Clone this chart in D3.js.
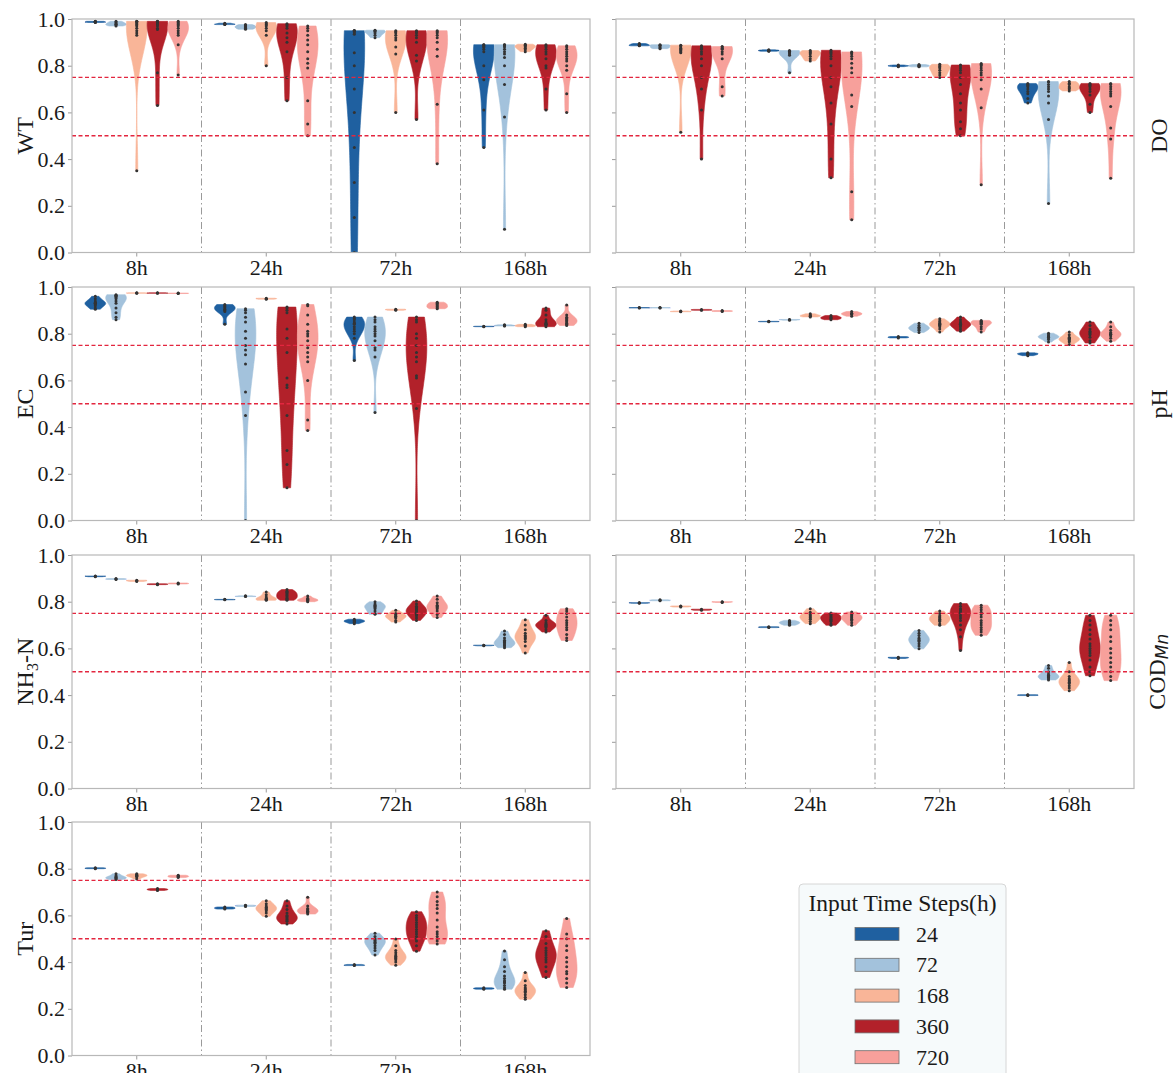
<!DOCTYPE html>
<html>
<head>
<meta charset="utf-8">
<script src="https://cdn.jsdelivr.net/npm/d3@7"></script>
<style>
  body { margin: 0; background: #fff; }
  svg text { font-family: "Liberation Serif", "Times New Roman", serif; fill: #1a1a1a; }
</style>
</head>
<body>
<div class="chart"></div>
<script>
// data
// ==========================================================================
var horizons = ["8h", "24h", "72h", "168h"];
var inputSteps = ["24", "72", "168", "360", "720"];
var stepColors = ["#1f60a0", "#a3c2dc", "#f9b598", "#b2212a", "#f7a09b"];
var yTicks = [0, 0.2, 0.4, 0.6, 0.8, 1.0];
var thresholds = [0.75, 0.5];

// each variable: 4 horizons x 5 input steps, every list = the scores of one violin
var wtValues = [
  [[0.99, 0.99, 0.988, 0.987, 0.986, 0.985], [0.99, 0.985, 0.98, 0.977, 0.974, 0.97],
   [0.99, 0.99, 0.985, 0.98, 0.975, 0.97, 0.96, 0.95, 0.94, 0.93, 0.35],
   [0.99, 0.99, 0.985, 0.98, 0.975, 0.97, 0.96, 0.955, 0.77, 0.63],
   [0.99, 0.985, 0.98, 0.975, 0.97, 0.96, 0.95, 0.94, 0.93, 0.89, 0.76]],
  [[0.982, 0.98, 0.978, 0.977, 0.976], [0.976, 0.972, 0.968, 0.964, 0.96, 0.956],
   [0.985, 0.98, 0.975, 0.97, 0.96, 0.95, 0.93, 0.8],
   [0.98, 0.975, 0.97, 0.96, 0.94, 0.92, 0.9, 0.86, 0.75, 0.65],
   [0.97, 0.96, 0.95, 0.93, 0.91, 0.89, 0.86, 0.83, 0.81, 0.79, 0.65, 0.55, 0.5]],
  [[0.95, 0.95, 0.95, 0.95, 0.945, 0.94, 0.935, 0.855, 0.8, 0.7, 0.6, 0.45, 0.3, 0.15, 0.0, -0.2],
   [0.952, 0.95, 0.946, 0.94, 0.93, 0.92],
   [0.95, 0.945, 0.94, 0.93, 0.92, 0.91, 0.88, 0.85, 0.6],
   [0.95, 0.945, 0.94, 0.93, 0.92, 0.9, 0.845, 0.82, 0.57],
   [0.95, 0.945, 0.94, 0.93, 0.92, 0.9, 0.87, 0.84, 0.635, 0.38]],
  [[0.89, 0.89, 0.885, 0.88, 0.88, 0.87, 0.86, 0.8, 0.74, 0.61, 0.45],
   [0.89, 0.89, 0.885, 0.88, 0.87, 0.86, 0.85, 0.835, 0.8, 0.72, 0.58, 0.1],
   [0.892, 0.888, 0.884, 0.88, 0.875, 0.868, 0.86],
   [0.89, 0.885, 0.88, 0.87, 0.86, 0.85, 0.83, 0.8, 0.79, 0.7, 0.61],
   [0.885, 0.88, 0.87, 0.86, 0.85, 0.84, 0.83, 0.82, 0.8, 0.78, 0.68, 0.6]]
];

var doValues = [
  [[0.895, 0.893, 0.89, 0.888, 0.886, 0.885], [0.89, 0.888, 0.885, 0.88, 0.876, 0.873],
   [0.888, 0.885, 0.88, 0.875, 0.87, 0.865, 0.86, 0.855, 0.515],
   [0.885, 0.88, 0.875, 0.87, 0.86, 0.85, 0.83, 0.8, 0.75, 0.7, 0.61, 0.4],
   [0.882, 0.88, 0.875, 0.87, 0.86, 0.85, 0.83, 0.71, 0.67]],
  [[0.868, 0.866, 0.865, 0.863, 0.862], [0.865, 0.862, 0.86, 0.855, 0.85, 0.845, 0.77],
   [0.865, 0.86, 0.855, 0.85, 0.84, 0.83, 0.82],
   [0.866, 0.86, 0.855, 0.85, 0.84, 0.83, 0.8, 0.75, 0.71, 0.64, 0.55, 0.4, 0.32],
   [0.859, 0.855, 0.85, 0.84, 0.83, 0.81, 0.79, 0.77, 0.675, 0.625, 0.26, 0.14]],
  [[0.803, 0.8, 0.8, 0.798, 0.796], [0.805, 0.802, 0.8, 0.797, 0.795],
   [0.806, 0.8, 0.795, 0.79, 0.78, 0.77, 0.76, 0.75],
   [0.803, 0.8, 0.79, 0.78, 0.77, 0.75, 0.72, 0.68, 0.64, 0.61, 0.56, 0.53, 0.5],
   [0.809, 0.805, 0.8, 0.79, 0.78, 0.77, 0.76, 0.74, 0.7, 0.62, 0.29]],
  [[0.724, 0.72, 0.715, 0.71, 0.7, 0.69, 0.68, 0.66, 0.64],
   [0.732, 0.73, 0.72, 0.71, 0.7, 0.69, 0.67, 0.64, 0.57, 0.21],
   [0.732, 0.725, 0.72, 0.71, 0.705, 0.7, 0.692],
   [0.724, 0.72, 0.715, 0.71, 0.7, 0.69, 0.675, 0.635, 0.6],
   [0.724, 0.72, 0.71, 0.7, 0.69, 0.68, 0.67, 0.625, 0.533, 0.486, 0.318]]
];

var ecValues = [
  [[0.96, 0.95, 0.94, 0.935, 0.93, 0.93, 0.925, 0.92, 0.91, 0.905],
   [0.967, 0.965, 0.962, 0.96, 0.955, 0.95, 0.94, 0.93, 0.91, 0.89, 0.87, 0.86],
   [0.975, 0.974, 0.973], [0.975, 0.974, 0.973], [0.974, 0.973, 0.972]],
  [[0.925, 0.92, 0.915, 0.91, 0.905, 0.9, 0.895, 0.84],
   [0.907, 0.9, 0.89, 0.87, 0.85, 0.81, 0.78, 0.75, 0.73, 0.71, 0.67, 0.55, 0.45, 0.0],
   [0.952, 0.95, 0.948],
   [0.914, 0.91, 0.9, 0.89, 0.82, 0.78, 0.72, 0.61, 0.58, 0.57, 0.45, 0.3, 0.24, 0.14],
   [0.925, 0.92, 0.88, 0.84, 0.81, 0.8, 0.79, 0.77, 0.74, 0.72, 0.7, 0.68, 0.6, 0.43, 0.385]],
  [[0.871, 0.865, 0.86, 0.85, 0.845, 0.84, 0.83, 0.82, 0.81, 0.8, 0.78, 0.685],
   [0.871, 0.86, 0.85, 0.83, 0.82, 0.81, 0.8, 0.79, 0.77, 0.74, 0.73, 0.7, 0.463],
   [0.905, 0.903, 0.9],
   [0.871, 0.86, 0.85, 0.8, 0.78, 0.75, 0.72, 0.7, 0.68, 0.62, 0.61, 0.48, 0.0],
   [0.935, 0.93, 0.925, 0.92, 0.915, 0.91, 0.907]],
  [[0.832, 0.831, 0.83], [0.838, 0.836, 0.834, 0.833], [0.84, 0.836, 0.833, 0.83],
   [0.91, 0.9, 0.88, 0.86, 0.85, 0.845, 0.84, 0.84, 0.835, 0.83],
   [0.923, 0.88, 0.87, 0.865, 0.86, 0.855, 0.85, 0.845, 0.84, 0.835]]
];

var phValues = [
  [[0.912, 0.911, 0.91], [0.912, 0.911, 0.91], [0.897, 0.895, 0.894],
   [0.904, 0.902, 0.9], [0.899, 0.897, 0.895]],
  [[0.853, 0.852, 0.851], [0.861, 0.86, 0.858], [0.885, 0.88, 0.877, 0.875, 0.872],
   [0.878, 0.872, 0.868, 0.865, 0.86], [0.895, 0.888, 0.885, 0.882, 0.875]],
  [[0.788, 0.785, 0.782], [0.845, 0.835, 0.828, 0.825, 0.82, 0.815, 0.805],
   [0.864, 0.855, 0.85, 0.845, 0.84, 0.838, 0.835, 0.83, 0.82, 0.807],
   [0.871, 0.86, 0.85, 0.845, 0.84, 0.84, 0.835, 0.83, 0.82, 0.811],
   [0.857, 0.853, 0.85, 0.848, 0.845, 0.84, 0.83, 0.82, 0.807]],
  [[0.718, 0.715, 0.713, 0.71, 0.706], [0.802, 0.795, 0.79, 0.787, 0.785, 0.782, 0.775, 0.764],
   [0.807, 0.795, 0.785, 0.78, 0.778, 0.775, 0.77, 0.765, 0.754],
   [0.85, 0.835, 0.82, 0.81, 0.805, 0.8, 0.795, 0.785, 0.77, 0.76],
   [0.85, 0.83, 0.815, 0.805, 0.8, 0.798, 0.795, 0.79, 0.78, 0.768]]
];

var nh3Values = [
  [[0.91, 0.909, 0.907], [0.899, 0.897, 0.895], [0.892, 0.89, 0.887],
   [0.877, 0.875, 0.873], [0.88, 0.878, 0.876]],
  [[0.81, 0.809, 0.808], [0.825, 0.823, 0.822],
   [0.842, 0.83, 0.82, 0.815, 0.81, 0.81, 0.808, 0.806],
   [0.852, 0.845, 0.84, 0.835, 0.83, 0.825, 0.82, 0.815, 0.81, 0.806],
   [0.824, 0.815, 0.81, 0.808, 0.806, 0.803, 0.8]],
  [[0.725, 0.72, 0.718, 0.715, 0.712, 0.706],
   [0.8, 0.79, 0.785, 0.78, 0.775, 0.77, 0.76, 0.75, 0.746],
   [0.763, 0.75, 0.745, 0.74, 0.737, 0.735, 0.73, 0.72, 0.713],
   [0.803, 0.79, 0.78, 0.775, 0.77, 0.765, 0.76, 0.755, 0.75, 0.745, 0.74, 0.73, 0.72],
   [0.824, 0.81, 0.795, 0.785, 0.78, 0.775, 0.77, 0.76, 0.745, 0.732]],
  [[0.614, 0.613, 0.611],
   [0.674, 0.66, 0.645, 0.635, 0.63, 0.625, 0.62, 0.615, 0.61, 0.603],
   [0.723, 0.7, 0.68, 0.665, 0.655, 0.65, 0.645, 0.64, 0.63, 0.61, 0.58],
   [0.742, 0.72, 0.71, 0.705, 0.7, 0.7, 0.695, 0.69, 0.68, 0.67],
   [0.77, 0.76, 0.75, 0.735, 0.72, 0.71, 0.7, 0.69, 0.68, 0.66, 0.645, 0.634]]
];

var codValues = [
  [[0.796, 0.795, 0.793], [0.808, 0.806, 0.804], [0.782, 0.78, 0.777],
   [0.768, 0.766, 0.763], [0.8, 0.799, 0.797]],
  [[0.693, 0.691, 0.689], [0.72, 0.715, 0.712, 0.71, 0.707, 0.703, 0.699],
   [0.77, 0.755, 0.745, 0.74, 0.735, 0.73, 0.725, 0.715, 0.706],
   [0.752, 0.745, 0.74, 0.735, 0.73, 0.725, 0.72, 0.715, 0.705, 0.699],
   [0.756, 0.745, 0.74, 0.735, 0.73, 0.725, 0.72, 0.71, 0.699]],
  [[0.562, 0.56, 0.557],
   [0.677, 0.665, 0.655, 0.645, 0.64, 0.635, 0.63, 0.62, 0.61, 0.598],
   [0.76, 0.75, 0.74, 0.735, 0.73, 0.725, 0.72, 0.715, 0.705, 0.699],
   [0.792, 0.78, 0.77, 0.765, 0.76, 0.755, 0.75, 0.74, 0.73, 0.72, 0.7, 0.68, 0.65, 0.591],
   [0.785, 0.775, 0.765, 0.755, 0.745, 0.735, 0.72, 0.71, 0.7, 0.69, 0.68, 0.67, 0.656]],
  [[0.402, 0.4, 0.398],
   [0.527, 0.515, 0.5, 0.49, 0.485, 0.48, 0.478, 0.475, 0.47, 0.465],
   [0.54, 0.5, 0.48, 0.47, 0.465, 0.46, 0.455, 0.45, 0.44, 0.43, 0.419],
   [0.742, 0.72, 0.7, 0.68, 0.66, 0.64, 0.62, 0.61, 0.6, 0.59, 0.58, 0.57, 0.55, 0.52, 0.5, 0.483],
   [0.742, 0.72, 0.7, 0.68, 0.65, 0.63, 0.6, 0.58, 0.56, 0.54, 0.52, 0.5, 0.48, 0.462]]
];

var turValues = [
  [[0.804, 0.802, 0.8], [0.778, 0.77, 0.765, 0.762, 0.76, 0.757, 0.754],
   [0.778, 0.775, 0.772, 0.77, 0.768, 0.764, 0.756],
   [0.715, 0.713, 0.711, 0.709, 0.707], [0.772, 0.77, 0.767, 0.765, 0.762]],
  [[0.636, 0.633, 0.63, 0.627], [0.644, 0.642, 0.64, 0.638],
   [0.663, 0.65, 0.64, 0.635, 0.63, 0.625, 0.62, 0.61, 0.596],
   [0.663, 0.64, 0.625, 0.61, 0.6, 0.595, 0.59, 0.585, 0.58, 0.575, 0.563],
   [0.678, 0.64, 0.63, 0.625, 0.62, 0.618, 0.615, 0.612, 0.606]],
  [[0.39, 0.387, 0.385],
   [0.524, 0.51, 0.5, 0.495, 0.49, 0.485, 0.48, 0.47, 0.46, 0.45, 0.43],
   [0.499, 0.47, 0.45, 0.44, 0.43, 0.425, 0.42, 0.415, 0.41, 0.4, 0.387],
   [0.616, 0.6, 0.59, 0.58, 0.57, 0.56, 0.55, 0.54, 0.53, 0.52, 0.51, 0.5, 0.49, 0.47, 0.447],
   [0.7, 0.68, 0.66, 0.645, 0.63, 0.61, 0.58, 0.55, 0.53, 0.52, 0.51, 0.5, 0.49, 0.477]],
  [[0.29, 0.287, 0.284],
   [0.448, 0.41, 0.38, 0.36, 0.34, 0.33, 0.32, 0.315, 0.31, 0.3, 0.29, 0.284],
   [0.355, 0.32, 0.3, 0.29, 0.285, 0.28, 0.275, 0.27, 0.26, 0.25, 0.241],
   [0.534, 0.51, 0.48, 0.46, 0.45, 0.44, 0.43, 0.42, 0.41, 0.4, 0.38, 0.36, 0.334],
   [0.587, 0.52, 0.5, 0.47, 0.45, 0.42, 0.4, 0.38, 0.36, 0.35, 0.33, 0.31, 0.291]]
];

// panel layout: col 0 = label on the left, col 1 = label on the right
var panels = [
  { label: "WT", values: wtValues, row: 0, col: 0 },
  { label: "DO", values: doValues, row: 0, col: 1 },
  { label: "EC", values: ecValues, row: 1, col: 0 },
  { label: "pH", values: phValues, row: 1, col: 1 },
  { label: "NH3-N", values: nh3Values, row: 2, col: 0 },
  { label: "CODMn", values: codValues, row: 2, col: 1 },
  { label: "Tur", values: turValues, row: 3, col: 0 }
];

// chart configuration
// ==========================================================================
var svgWidth = 1175;
var svgHeight = 1073;
var colX = [72, 616];
var rowY = [19, 287, 555, 822];
var panelW = 518;
var panelH = 233.5;
var serif = "'Liberation Serif', 'Times New Roman', serif";

var svg = d3.select(".chart")
  .append("svg")
  .attr("width", svgWidth)
  .attr("height", svgHeight);

var defs = svg.append("defs");

// gaussian kde, scott bandwidth, cut at data range (like seaborn cut=0)
function kde(values) {
  var n = values.length;
  var bw = Math.pow(n, -0.2) * d3.deviation(values);
  var lo = d3.min(values), hi = d3.max(values);
  var grid = d3.range(100).map(i => lo + (hi - lo) * i / 99);
  var dens = grid.map(g => d3.sum(values, v => Math.exp(-0.5 * Math.pow((g - v) / bw, 2))));
  var m = d3.max(dens);
  return grid.map((g, i) => [g, dens[i] / m]);
}

panels.forEach(function(p, pi) {
  var g = svg.append("g")
    .attr("transform", `translate(${colX[p.col]}, ${rowY[p.row]})`);

  var x = d3.scaleBand().domain(horizons).range([0, panelW]);
  var hue = d3.scaleBand().domain(inputSteps)
    .range([-0.4 * x.bandwidth(), 0.4 * x.bandwidth()]);
  var y = d3.scaleLinear().domain([0, 1]).range([panelH, 0]);
  var half = hue.bandwidth() / 2;

  defs.append("clipPath").attr("id", "clip" + pi)
    .append("rect").attr("width", panelW).attr("height", panelH);

  // group separators (dash-dot)
  g.selectAll(".sep")
    .data(horizons.slice(1))
    .enter()
    .append("line")
    .attr("x1", d => x(d)).attr("x2", d => x(d))
    .attr("y1", 0).attr("y2", panelH)
    .attr("stroke", "#9a9a9a")
    .attr("stroke-width", 1)
    .attr("stroke-dasharray", "7,3,1.5,3");

  var plot = g.append("g").attr("clip-path", `url(#clip${pi})`);

  horizons.forEach(function(h, hi) {
    inputSteps.forEach(function(s, si) {
      var vals = p.values[hi][si];
      var cx = x(h) + x.bandwidth() / 2 + hue(s) + half;
      var area = d3.area()
        .y(d => y(d[0]))
        .x0(d => cx - half * d[1])
        .x1(d => cx + half * d[1]);
      plot.append("path")
        .datum(kde(vals))
        .attr("d", area)
        .attr("fill", stepColors[si])
        .attr("stroke", stepColors[si])
        .attr("stroke-width", 0.6);
      plot.selectAll(null)
        .data(vals)
        .enter()
        .append("circle")
        .attr("cx", cx)
        .attr("cy", d => y(d))
        .attr("r", 1.5)
        .attr("fill", "#333");
    });
  });

  // threshold lines
  plot.selectAll(".thr")
    .data(thresholds)
    .enter()
    .append("line")
    .attr("x1", 0).attr("x2", panelW)
    .attr("y1", d => y(d)).attr("y2", d => y(d))
    .attr("stroke", "#e3263f")
    .attr("stroke-width", 1.4)
    .attr("stroke-dasharray", "4,2.5");

  // axes
  var leftAxis = d3.axisLeft(y).tickValues(yTicks).tickSize(4).tickPadding(3)
    .tickFormat(p.col === 0 ? d3.format(".1f") : "");
  var ya = g.append("g").call(leftAxis);
  var xa = g.append("g")
    .attr("transform", `translate(0, ${panelH})`)
    .call(d3.axisBottom(x).tickSize(4).tickPadding(3));
  [ya, xa].forEach(function(a) {
    a.attr("font-family", serif).attr("font-size", 22);
    a.select(".domain").remove();
    a.selectAll("line").attr("stroke", "#9a9a9a");
    a.selectAll("text").attr("fill", "#1a1a1a").style("font-family", serif);
  });

  g.append("rect")
    .attr("width", panelW).attr("height", panelH)
    .attr("fill", "none")
    .attr("stroke", "#b8b8b8")
    .attr("stroke-width", 1.2);

  // axis labels
  var lx = p.col === 0 ? -39 : panelW + 33;
  var lab = g.append("text")
    .attr("transform", `translate(${lx}, ${panelH / 2}) rotate(-90)`)
    .attr("text-anchor", "middle")
    .attr("font-size", 24);
  if (p.label === "NH3-N") {
    lab.append("tspan").text("NH");
    lab.append("tspan").attr("dy", 5).attr("font-size", 16).text("3");
    lab.append("tspan").attr("dy", -5).text("-N");
  } else if (p.label === "CODMn") {
    lab.attr("transform", `translate(${lx - 2}, ${panelH / 2}) rotate(-90)`);
    lab.append("tspan").text("COD");
    lab.append("tspan").attr("dy", 3).attr("font-size", 17)
      .attr("font-style", "italic").style("font-family", "'DejaVu Sans', sans-serif").text("Mn");
  } else {
    lab.text(p.label);
  }
});

// legend
// ==========================================================================
var legend = svg.append("g").attr("transform", "translate(799, 884)");
legend.append("rect")
  .attr("width", 207).attr("height", 210)
  .attr("rx", 4)
  .attr("fill", "#f6fafb")
  .attr("stroke", "#d6d6d6");
legend.append("text")
  .attr("x", 103.5).attr("y", 27)
  .attr("text-anchor", "middle")
  .attr("font-size", 23.5)
  .text("Input Time Steps(h)");
var items = legend.selectAll(".item")
  .data(inputSteps)
  .enter()
  .append("g")
  .attr("transform", (d, i) => `translate(0, ${50 + i * 30.8})`);
items.append("rect")
  .attr("x", 56).attr("y", -6.5)
  .attr("width", 44).attr("height", 13)
  .attr("fill", (d, i) => stepColors[i])
  .attr("stroke", "#6f6f6f")
  .attr("stroke-width", 0.8);
items.append("text")
  .attr("x", 117).attr("y", 7.5)
  .attr("font-size", 22)
  .text(d => d);
</script>
</body>
</html>
